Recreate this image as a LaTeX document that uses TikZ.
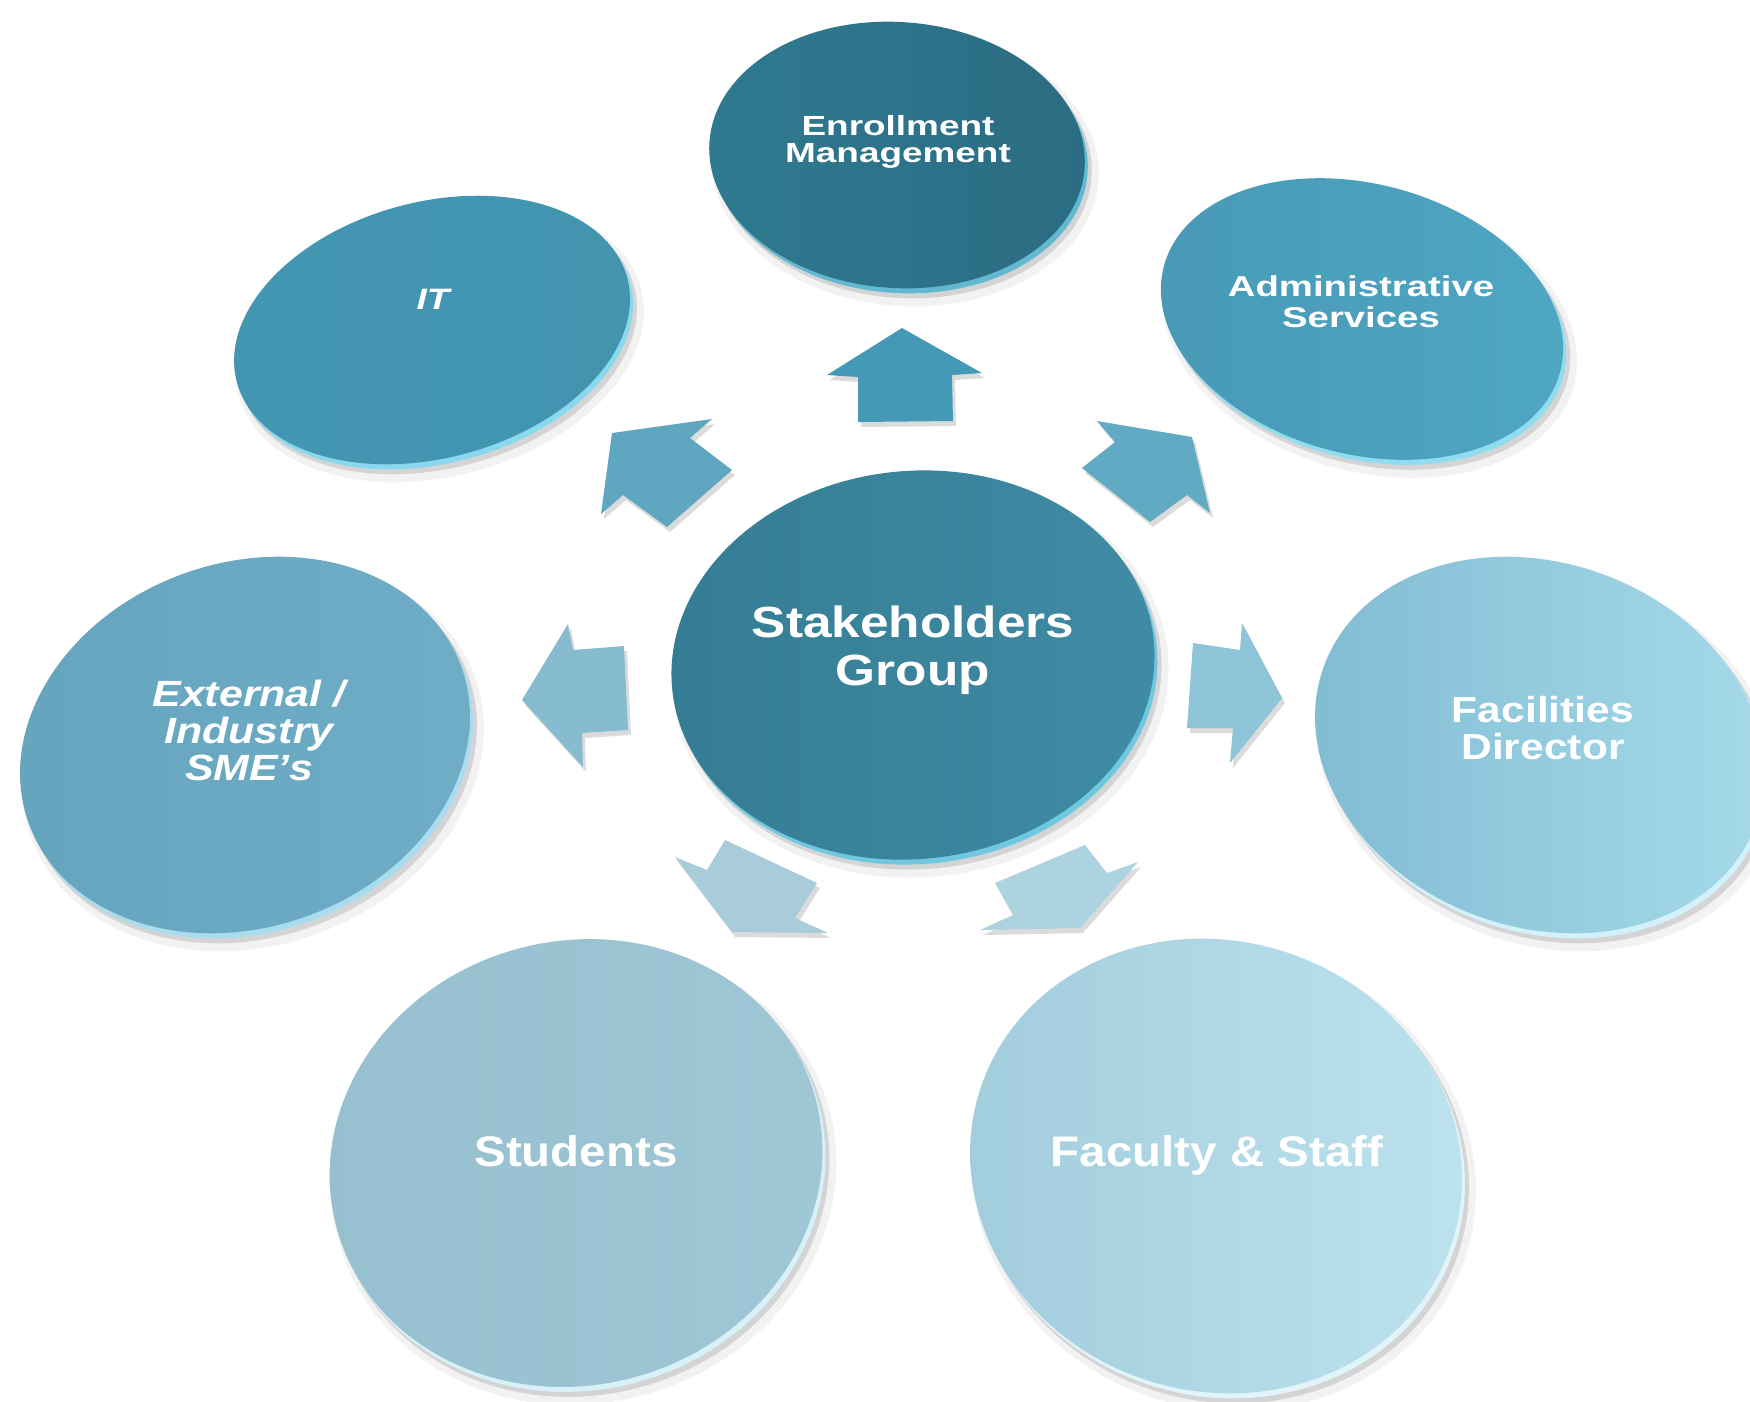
\documentclass[tikz,border=0pt]{standalone}
\usepackage{fontspec}
\setmainfont{Liberation Sans}
\usepackage{graphicx}
\definecolor{cEnrL}{HTML}{2F7A90}\definecolor{cEnrR}{HTML}{2B6C82}\definecolor{rEnr}{HTML}{62B8D0}
\definecolor{cItL}{HTML}{4396B2}\definecolor{cItR}{HTML}{4294AF}\definecolor{rIt}{HTML}{8AD8EE}
\definecolor{cAdmL}{HTML}{4899B6}\definecolor{cAdmR}{HTML}{4FA7C3}\definecolor{rAdm}{HTML}{92DCF0}
\definecolor{cStkL}{HTML}{347C94}\definecolor{cStkR}{HTML}{3F8CA4}\definecolor{rStk}{HTML}{70C8E0}
\definecolor{cExtL}{HTML}{65A4BD}\definecolor{cExtR}{HTML}{6FAEC6}\definecolor{rExt}{HTML}{A8DCEE}
\definecolor{cFacL}{HTML}{80BBD2}\definecolor{cFacR}{HTML}{A7DBEB}\definecolor{rFac}{HTML}{D2F1FA}
\definecolor{cStuL}{HTML}{96BFCF}\definecolor{cStuR}{HTML}{9FC7D6}\definecolor{rStu}{HTML}{D8F0F8}
\definecolor{cFsL}{HTML}{A1CCDC}\definecolor{cFsR}{HTML}{BEE3EF}\definecolor{rFs}{HTML}{E0F4FA}
\definecolor{aUp}{HTML}{4499B6}
\definecolor{aUL}{HTML}{5FA7C1}
\definecolor{aUR}{HTML}{60AAC4}
\definecolor{aL}{HTML}{87BBCF}
\definecolor{aR}{HTML}{8EC4D7}
\definecolor{aBL}{HTML}{A9CCDA}
\definecolor{aBR}{HTML}{AED3E0}
% cx cy a b rot leftcolor rightcolor rimcolor
\newcommand\mydisc[8]{%
  \fill[black,opacity=.05] (#1+8,#2+12) ellipse[x radius=#3+6,y radius=#4+6,rotate=#5];
  \fill[black,opacity=.12] (#1+6,#2+9) ellipse[x radius=#3+1,y radius=#4+1,rotate=#5];
  \fill[#8] (#1+3,#2+5) ellipse[x radius=#3,y radius=#4,rotate=#5];
  \shade[left color=#6,right color=#7] (#1,#2) ellipse[x radius=#3,y radius=#4,rotate=#5];
}
\newcommand\myarrow[2]{%
  \fill[black,opacity=.14,shift={(3,5)}] #2 -- cycle;
  \fill[#1] #2 -- cycle;
}
\newcommand\stk[4]{\fontsize{#1}{#2}\selectfont\scalebox{1}[#3]{\begin{tabular}{@{}c@{}}#4\end{tabular}}}
\begin{document}
\begin{tikzpicture}[x=0.01cm, y=-0.01cm,
  lbl/.style={text=white, font=\bfseries, inner sep=0pt, align=center}]
\useasboundingbox (0,0) rectangle (1750,1402);
\fill[white] (0,0) rectangle (1750,1402);
% discs
\mydisc{897}{155}{188}{133}{-4}{cEnrL}{cEnrR}{rEnr}
\mydisc{432}{330}{202}{128}{15}{cItL}{cItR}{rIt}
\mydisc{1362}{319}{205}{135}{-15}{cAdmL}{cAdmR}{rAdm}
\mydisc{245}{745}{230}{182}{20}{cExtL}{cExtR}{rExt}
\mydisc{1540}{745}{230}{182}{-20}{cFacL}{cFacR}{rFac}
\mydisc{913}{665}{242}{194}{6}{cStkL}{cStkR}{rStk}
\mydisc{576}{1163}{248}{222}{15}{cStuL}{cStuR}{rStu}
\mydisc{1216}{1166}{248}{225}{-18}{cFsL}{cFsR}{rFs}
% block arrows
\myarrow{aUp}{(902,328) -- (982,373) -- (952,375) -- (953,421) -- (858,422) -- (858,377) -- (827,375)}
\myarrow{aUL}{(612,433) -- (712,419) -- (690,438) -- (732,470) -- (667,527) -- (623,495) -- (601,514)}
\myarrow{aUR}{(1192,437) -- (1210,513) -- (1187,495) -- (1150,522) -- (1082,468) -- (1115,442) -- (1097,421)}
\myarrow{aL}{(522,700) -- (568,624) -- (573,650) -- (624,646) -- (628,730) -- (582,733) -- (583,767)}
\myarrow{aR}{(1282,698) -- (1230,763) -- (1233,728) -- (1187,728) -- (1193,643) -- (1240,650) -- (1242,623)}
\myarrow{aBL}{(732,932) -- (828,933) -- (795,918) -- (817,883) -- (725,840) -- (707,870) -- (675,857)}
\myarrow{aBR}{(1080,928) -- (980,930) -- (1013,915) -- (995,883) -- (1085,845) -- (1107,873) -- (1138,862)}
% labels
\node[lbl] (enr) at (898,143) {\stk{10.5}{10.2}{0.75}{Enrollment\\Management}};
\node[lbl, font=\bfseries\itshape] (it) at (433,304) {\stk{10.5}{10.5}{0.8}{IT}};
\node[lbl] (adm) at (1361,306) {\stk{10.9}{11.4}{0.75}{Administrative\\Services}};
\node[lbl] (stake) at (913,652) {\stk{14.6}{16}{0.85}{Stakeholders\\Group}};
\node[lbl, font=\bfseries\itshape] (ext) at (249,736) {\stk{12.2}{12.4}{0.85}{External /\\Industry\\SME’s}};
\node[lbl] (fac) at (1543,733) {\stk{12.1}{12}{0.85}{Facilities\\Director}};
\node[lbl] (stu) at (576,1158) {\stk{13.5}{14}{0.9}{Students}};
\node[lbl] (fs) at (1217,1158) {\stk{13.5}{14}{0.9}{Faculty \& Staff}};
\end{tikzpicture}
\end{document}
